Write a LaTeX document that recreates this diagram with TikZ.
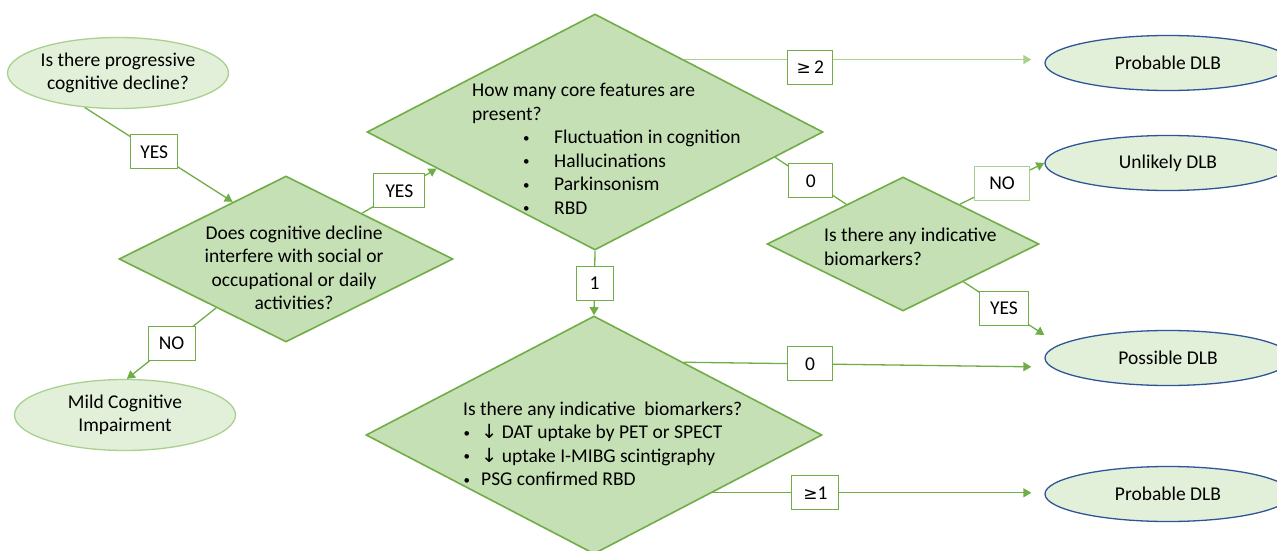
\documentclass[tikz,border=0pt]{standalone}
\usepackage{fontspec}
\setmainfont{Carlito}
\newfontfamily\symfont{DejaVu Sans}
\usetikzlibrary{shapes.geometric,arrows.meta}
\definecolor{dfill}{HTML}{C5E0B4}
\definecolor{efill}{HTML}{E2F0D9}
\definecolor{gline}{HTML}{70AD47}
\definecolor{gpale}{HTML}{A9D18E}
\definecolor{bline}{HTML}{2F5597}
\newcommand\smallbul{\raisebox{1.5pt}{\fontsize{13}{13}\selectfont\textbullet}}
\newcommand\coreitem[1]{\hspace*{51pt}\makebox[31pt][l]{\smallbul}#1}
\newcommand\bioitem[1]{\makebox[18pt][l]{\hspace*{0.5pt}\smallbul}#1}
\newcommand\dnarr{{\symfont ↓}\ }

\begin{document}
\begin{tikzpicture}[x=1pt, y=-1pt,
  every node/.style={font=\fontsize{19.5}{23.5}\selectfont, inner sep=0pt},
  question/.style={ellipse, draw=gpale, fill=efill, line width=1.3pt, align=center,
    minimum width=221pt, minimum height=71pt},
  outcome/.style={ellipse, draw=bline, fill=efill, line width=1.3pt,
    minimum width=246pt, minimum height=55pt},
  decision/.style={diamond, draw=gline, fill=dfill, line width=1.6pt},
  lbl/.style={draw=gline, fill=white, line width=1pt, minimum width=47pt, minimum height=34pt},
  link/.style={draw=gline, line width=1.3pt, -{Triangle[length=8pt,width=9pt]}},
  ]
  \useasboundingbox (0,0) rectangle (1277,551);
  \clip (0,0) rectangle (1277,551);

  % left column
  \node[question] (prog) at (118,73) {Is there progressive\\cognitive decline?};
  \node[decision, minimum width=334pt, minimum height=166pt] (interf) at (286,259) {};
  \node[align=center] (interf-t) at (294,268)
    {Does cognitive decline\\interfere with social or\\occupational or daily\\activities?};
  \node[question] (mci) at (125,415) {Mild Cognitive\\Impairment};

  % core features
  \node[decision, minimum width=456pt, minimum height=236pt] (core) at (595,132) {};
  \node[align=left, anchor=west] (core-t) at (472,149)
    {How many core features are\\present?\\\coreitem{Fluctuation in cognition}\\
     \coreitem{Hallucinations}\\\coreitem{Parkinsonism}\\\coreitem{RBD}};

  % biomarkers (0 core features)
  \node[decision, minimum width=272pt, minimum height=134pt] (bio) at (903,244) {};
  \node[align=left, anchor=west] (bio-t) at (824,247) {Is there any indicative\\biomarkers?};

  % biomarkers (1 core feature)
  \node[decision, minimum width=456pt, minimum height=238pt] (bio2) at (594,435) {};
  \node[align=left, anchor=west] (bio2-t) at (463,444)
    {Is there any indicative\ \ biomarkers?\\\bioitem{\dnarr DAT uptake by PET or SPECT}\\
     \bioitem{\dnarr uptake I-MIBG scintigraphy}\\\bioitem{PSG confirmed RBD}};

  % outcomes
  \node[outcome] (prob1) at (1168,63) {Probable DLB};
  \node[outcome] (unlik) at (1168,163) {Unlikely DLB};
  \node[outcome] (poss) at (1168,358) {Possible DLB};
  \node[outcome] (prob2) at (1168,494) {Probable DLB};

  % connectors
  \draw[link] (prog.226) -- node[lbl, pos=0.47] (y1) {YES} (interf.133);
  \draw[link] (interf.31) -- node[lbl, minimum width=51pt] (y2) {YES} (core.193);
  \draw[link] (interf.215) -- node[lbl] (n1) {NO} (mci.87);
  \draw[link, draw=gpale, shorten >=13pt] (core.39) -- node[lbl, pos=0.35, yshift=-8pt, minimum width=45pt] (ge2)
    {{\symfont\fontsize{17}{20}\selectfont ≥}\,2} (core.39 -| prob1.west);
  \draw[draw=gline, line width=1.3pt] (core.-8) -- node[lbl, minimum width=44pt] (z1) {0} (bio.145);
  \draw[link] (bio.35) -- node[lbl, minimum width=55pt, draw=gpale] (n2) {NO} (unlik.west);
  \draw[link] (bio.-32) -- node[lbl, minimum width=49pt] (y3) {YES} ([yshift=23pt]poss.west);
  \draw[link] (core.south) -- node[lbl, minimum width=37pt] (one) {1} (bio2.north);
  \draw[link, shorten >=13pt] (bio2.39) -- node[lbl, pos=0.35, minimum width=45pt] (z2) {0}
    ([yshift=-9pt]poss.west);
  \draw[link, shorten >=13pt] (bio2.-26) -- node[lbl, pos=0.31] (ge1)
    {{\symfont\fontsize{17}{20}\selectfont ≥}1} (bio2.-26 -| prob2.west);
\end{tikzpicture}
\end{document}
